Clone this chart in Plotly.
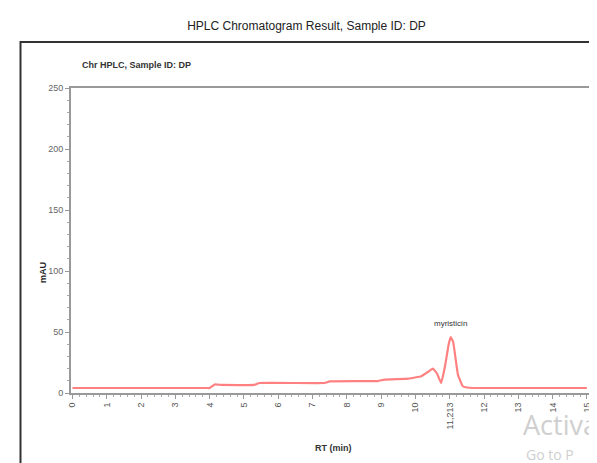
import plotly.graph_objects as go

# ---- data ----
rt_min = [0, 2.0, 3.9, 4.0, 4.15, 4.35, 5.3, 5.45, 7.35, 7.5, 8.9, 9.1, 9.8, 10.17, 10.35,
          10.51, 10.63, 10.75, 10.87, 10.97, 11.03, 11.1, 11.24, 11.38, 11.5, 11.7, 15]
mau = [4.1, 4.1, 4.1, 4.1, 7.0, 6.6, 6.6, 8.2, 8.2, 9.5, 9.8, 11.0, 11.8, 13.7, 17.0,
       20.0, 16.0, 8.2, 23.0, 40.0, 45.8, 42.0, 15.0, 5.5, 4.5, 4.1, 4.1]

x_tick_vals = [0, 1, 2, 3, 4, 5, 6, 7, 8, 9, 10, 11, 12, 13, 14, 15]
x_tick_text = ["0", "1", "2", "3", "4", "5", "6", "7", "8", "9", "10", "11,213", "12", "13", "14", "15"]
y_tick_vals = [0, 50, 100, 150, 200, 250]

peak_name = "myristicin"
peak_rt = 11.03
peak_label_mau = 57

W, H = 597, 463
L, R, T, B = 63, 583, 80, 385  # plot area pixels


def px(xp):
    return (xp - L) / (R - L)


def py(yp):
    return (B - yp) / (B - T)


FONT = "Liberation Sans Narrow, Liberation Sans, Arial, sans-serif"

fig = go.Figure()
fig.add_trace(go.Scatter(x=rt_min, y=mau, mode="lines",
                         line=dict(color="#ff8080", width=2.2, shape="spline", smoothing=0.3),
                         hoverinfo="x+y", showlegend=False))

fig.update_layout(
    width=W, height=H,
    margin=dict(l=L, r=W - R, t=T, b=H - B),
    paper_bgcolor="white", plot_bgcolor="white",
    font=dict(family=FONT, color="#555"),
    title=dict(text="HPLC Chromatogram Result, Sample ID: DP", x=0.5, xref="container",
               y=1 - 18 / H, yref="container", yanchor="middle", xanchor="center",
               font=dict(size=12, color="#222", family=FONT)),
    xaxis=dict(range=[-0.044, 15.12], tickvals=x_tick_vals, ticktext=x_tick_text,
               tickangle=-90, ticks="outside", ticklen=4, tickcolor="#999",
               tickfont=dict(size=9, color="#555"),
               minor=dict(dtick=0.2, ticks="outside", ticklen=2, tickcolor="#aaa"),
               showgrid=False, zeroline=False, showline=True, linecolor="#999",
               linewidth=2, mirror=True),
    yaxis=dict(range=[0, 250], tickvals=y_tick_vals, ticks="outside", ticklen=4,
               tickcolor="#999", tickfont=dict(size=9, color="#666"),
               minor=dict(dtick=10, ticks="outside", ticklen=2, tickcolor="#aaa"),
               showgrid=False, zeroline=False, showline=True, linecolor="#999",
               linewidth=2, mirror=True),
)

# outer frame
fig.add_shape(type="rect", xref="paper", yref="paper",
              x0=px(12.5), x1=px(594), y0=py(461), y1=py(34),
              line=dict(color="#333", width=2), fillcolor="rgba(0,0,0,0)", layer="below")

annos = [
    dict(text="<b>Chr HPLC, Sample ID: DP</b>", x=px(72), y=py(57), xanchor="left",
         yanchor="middle", font=dict(size=9, color="#333")),
    dict(text="<b>mAU</b>", x=px(35), y=py(265), textangle=-90, xanchor="center",
         yanchor="middle", font=dict(size=9, color="#222")),
    dict(text="<b>RT (min)</b>", x=px(325), y=py(440), xanchor="center",
         yanchor="middle", font=dict(size=9, color="#333")),
    dict(text="Activa", x=px(513), y=py(416), xanchor="left",
         yanchor="middle", font=dict(size=27, color="#cfcfcf", family="Open Sans, sans-serif")),
    dict(text="Go to P", x=px(516), y=py(446), xanchor="left",
         yanchor="middle", font=dict(size=14, color="#cfcfcf", family="Open Sans, sans-serif")),
]
for a in annos:
    fig.add_annotation(xref="paper", yref="paper", showarrow=False, **a)

fig.add_annotation(x=peak_rt, y=peak_label_mau, xref="x", yref="y", text=peak_name,
                   showarrow=False, font=dict(size=8, color="#333"), yanchor="middle")

fig.write_html("out.html")
